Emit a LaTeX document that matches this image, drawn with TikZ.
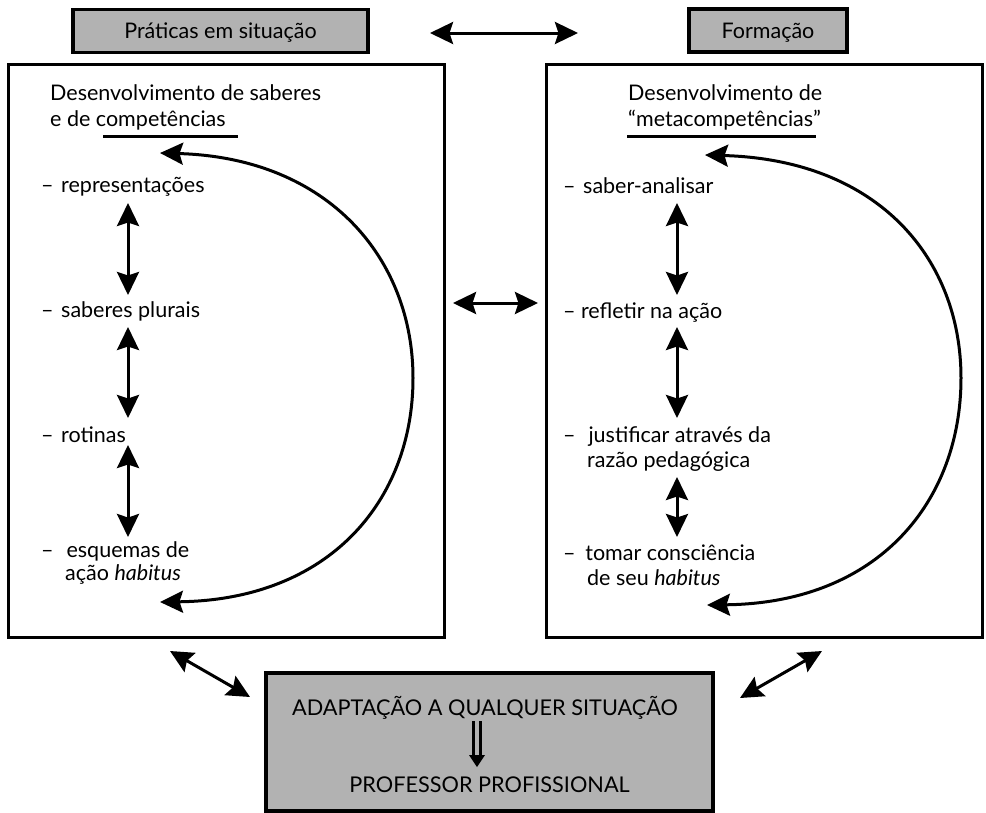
\documentclass[tikz,border=0pt]{standalone}
\usepackage{fontspec}
\setmainfont{Lato}
\usetikzlibrary{arrows.meta}
\begin{document}
\begin{tikzpicture}[x=1pt,y=-1pt,
  txt/.style={anchor=base west,inner sep=0pt,font=\fontsize{21.5}{26}\selectfont},
  btxt/.style={anchor=base,inner sep=0pt,font=\fontsize{21.7}{26}\selectfont},
  graybox/.style={draw=black,line width=3.2pt,fill=boxgray,inner sep=0pt},
  bigbox/.style={draw=black,line width=3pt,inner sep=0pt},
  tip/.tip={Stealth[length=23pt,width=22pt,inset=3.5pt]},
  dar/.style={line width=3pt,tip-tip},
  arcar/.style={line width=3pt,-tip},
]
\definecolor{boxgray}{RGB}{178,178,178}
\useasboundingbox (0,0) rectangle (986,812);

% top gray boxes
\node[graybox,minimum width=295pt,minimum height=43pt] (prat) at (220.5,31) {};
\node[txt,anchor=base] (pratt) at (220.5,38) {Práticas em situação};
\node[graybox,minimum width=158pt,minimum height=43pt] (form) at (768,30.5) {};
\node[txt,anchor=base] (formt) at (768,38) {Formação};
\coordinate (ta1) at (430,33);
\coordinate (ta2) at (578,33);
\draw[dar] (ta1) -- (ta2);

% big boxes
\node[bigbox,minimum width=436pt,minimum height=573pt] (lbox) at (226,350.5) {};
\node[bigbox,minimum width=436pt,minimum height=573pt] (rbox) at (764,350.5) {};
\coordinate (ma1) at (453,303);
\coordinate (ma2) at (538,303);
\draw[dar] (ma1) -- (ma2);

% left contents
\node[txt] (lh1) at (50,100) {Desenvolvimento de saberes};
\node[txt] (lh2) at (50,126) {e de competências};
\coordinate (lu1) at (103,136);
\coordinate (lu2) at (238,136);
\draw[line width=3pt] (lu1) -- (lu2);
\node[txt] (l1) at (41,192) {–\hspace{0.35em}representações};
\node[txt] (l2) at (41,317) {–\hspace{0.35em}saberes plurais};
\node[txt] (l3) at (41,442) {–\hspace{0.35em}rotinas};
\node[txt] (l4) at (41,557) {–\hspace{0.6em}esquemas de};
\node[txt] (l5) at (65,580) {ação \textit{habitus}};
\coordinate (la1) at (128,203); \coordinate (la2) at (128,295);
\coordinate (la3) at (128,327); \coordinate (la4) at (128,418);
\coordinate (la5) at (128,445); \coordinate (la6) at (128,537);
\draw[dar] (la1) -- (la2);
\draw[dar] (la3) -- (la4);
\draw[dar] (la5) -- (la6);
\coordinate (lc1) at (160,153);
\coordinate (lc2) at (413,378);
\coordinate (lc3) at (160,602);
\draw[arcar] (lc2) .. controls (413,260) and (330,158) .. (lc1);
\draw[arcar] (lc2) .. controls (413,500) and (330,600) .. (lc3);

% right contents
\node[txt] (rh1) at (628,100) {Desenvolvimento de};
\node[txt] (rh2) at (628,126) {“metacompetências”};
\coordinate (ru1) at (627,136);
\coordinate (ru2) at (816,136);
\draw[line width=3pt] (ru1) -- (ru2);
\node[txt] (r1) at (563,193) {–\hspace{0.35em}saber-analisar};
\node[txt] (r2) at (563,318) {–\hspace{0.25em}refletir na ação};
\node[txt] (r3) at (563,442) {–\hspace{0.6em}justificar através da};
\node[txt] (r4) at (587,467) {razão pedagógica};
\node[txt] (r5) at (563,560) {–\hspace{0.45em}tomar consciência};
\node[txt] (r6) at (587,585) {de seu \textit{habitus}};
\coordinate (ra1) at (677,203); \coordinate (ra2) at (677,295);
\coordinate (ra3) at (677,327); \coordinate (ra4) at (677,418);
\coordinate (ra5) at (677,477); \coordinate (ra6) at (677,537);
\draw[dar] (ra1) -- (ra2);
\draw[dar] (ra3) -- (ra4);
\draw[dar] (ra5) -- (ra6);
\coordinate (rc1) at (705,155);
\coordinate (rc2) at (961,378);
\coordinate (rc3) at (707,605);
\draw[arcar] (rc2) .. controls (961,260) and (880,160) .. (rc1);
\draw[arcar] (rc2) .. controls (961,500) and (880,603) .. (rc3);

% bottom box
\node[graybox,minimum width=447pt,minimum height=138pt] (bbox) at (489.5,742) {};
\node[btxt] (adapt) at (485,715) {ADAPTAÇÃO A QUALQUER SITUAÇÃO};
\node[btxt] (prof) at (489.5,792) {PROFESSOR PROFISSIONAL};
\coordinate (im1) at (477,721);
\coordinate (im2) at (477,767);
\draw[line width=2.2pt] ([xshift=-3.5pt]im1) -- ([xshift=-3.5pt,yshift=10pt]im2);
\draw[line width=2.2pt] ([xshift=3.5pt]im1) -- ([xshift=3.5pt,yshift=10pt]im2);
\fill (im2) -- ++(-8,-12) -- ++(16,0) -- cycle;

\coordinate (bl1) at (170,651); \coordinate (bl2) at (250,697);
\coordinate (br1) at (740,698); \coordinate (br2) at (822,651);
\draw[dar] (bl1) -- (bl2);
\draw[dar] (br1) -- (br2);
\end{tikzpicture}
\end{document}
